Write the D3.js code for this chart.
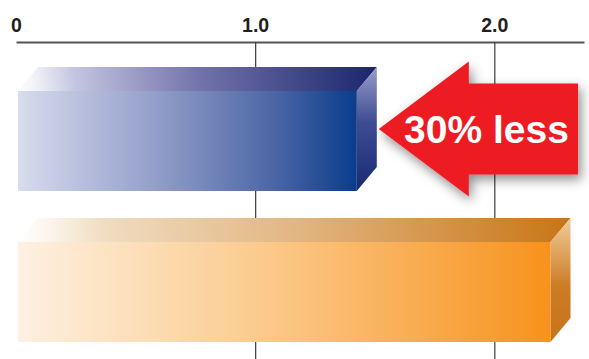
<!DOCTYPE html>
<html>
<head>
<meta charset="utf-8">
<script src="https://cdn.jsdelivr.net/npm/d3@7"></script>
<style>
  html, body { margin: 0; padding: 0; background: #ffffff; }
  svg { display: block; }
</style>
</head>
<body>
<script>
// ---- data ----
const categories = ["Blue", "Orange"];
const values = [1.425, 2.235];
const tickValues = [0, 1, 2];
const tickLabels = ["0", "1.0", "2.0"];
const annotation = "30% less";

// ---- layout ----
const W = 589, H = 359;
const axisY = 42;
const depthX = 20, depthY = -24;

const x = d3.scaleLinear().domain([0, 2.375]).range([16, 584]);
const y = d3.scaleBand().domain(categories).range([91, 342]).paddingInner(0.3377).paddingOuter(0);

const svg = d3.select("body").append("svg").attr("width", W).attr("height", H);
const defs = svg.append("defs");

function lin(id, x1, y1, x2, y2, stops, user) {
  const g = defs.append("linearGradient").attr("id", id)
    .attr("x1", x1).attr("y1", y1).attr("x2", x2).attr("y2", y2);
  if (user) g.attr("gradientUnits", "userSpaceOnUse");
  stops.forEach(([o, c]) => g.append("stop").attr("offset", o).attr("stop-color", c));
}
const palettes = [
  {
    front: [[0, "#d8dcee"], [0.4, "#949fca"], [0.75, "#4d67a5"], [1, "#0a3c8c"]],
    top: [[0, "#ffffff"], [0.06, "#eeeef6"], [0.16, "#c3c5e0"], [0.5, "#7273aa"], [1, "#17236b"]],
    side: [[0, "#9a9dca"], [0.45, "#3d4c92"], [1, "#1a2a72"]]
  },
  {
    front: [[0, "#fdf1e2"], [0.45, "#fbcb8e"], [1, "#f7921c"]],
    top: [[0, "#ffffff"], [0.06, "#fbf4ea"], [0.16, "#f0dcc0"], [0.5, "#e2b682"], [1, "#c87414"]],
    side: [[0, "#f1cd9a"], [0.55, "#cc7c25"], [1, "#c8731a"]]
  }
];
palettes.forEach((p, i) => {
  lin("front" + i, 0, 0, 1, 0, p.front);
  lin("side" + i, 0, 0, 0, 1, p.side);
});

const shadow = defs.append("filter").attr("id", "shadow")
  .attr("x", "-20%").attr("y", "-30%").attr("width", "150%").attr("height", "170%");
shadow.append("feDropShadow").attr("dx", 3).attr("dy", 5).attr("stdDeviation", 6)
  .attr("flood-color", "#000").attr("flood-opacity", 0.45);

// ---- axis with gridlines (behind bars) ----
const axis = d3.axisBottom(x)
  .tickValues(tickValues)
  .tickFormat((d, i) => tickLabels[i])
  .tickSize(H - axisY)
  .tickSizeOuter(0);

const gAxis = svg.append("g").attr("transform", `translate(0,${axisY})`).call(axis);
gAxis.select(".domain").attr("stroke", "#555").attr("stroke-width", 2);
gAxis.selectAll(".tick line").attr("stroke", "#3c3c3c").attr("stroke-width", 1.2)
  .attr("display", d => d === 0 ? "none" : null);
gAxis.selectAll(".tick text")
  .attr("y", -10).attr("dy", 0)
  .attr("fill", "#231f20")
  .attr("font-family", "'Liberation Sans', Arial, Helvetica, sans-serif")
  .attr("font-weight", "bold")
  .attr("font-size", 19.5)
  .attr("text-anchor", "middle");

// ---- 3D bars ----
const inset = 2;
const bars = svg.append("g").selectAll("g").data(categories).join("g");

bars.each(function (c, i) {
  const g = d3.select(this);
  const x0 = x(0) + inset, x1 = x(values[i]);
  const y0 = y(c), y1 = y(c) + y.bandwidth();
  // top-face gradient in user space (diagonal, light at the near-left corner)
  lin("top" + i, x0, y0, x1 + depthX, y0 + depthY * 2, palettes[i].top, true);
  // top face
  g.append("path")
    .attr("d", `M${x0},${y0} L${x0 + depthX},${y0 + depthY} L${x1 + depthX},${y0 + depthY} L${x1},${y0} Z`)
    .attr("fill", `url(#top${i})`);
  // side face
  g.append("path")
    .attr("d", `M${x1},${y0} L${x1 + depthX},${y0 + depthY} L${x1 + depthX},${y1 + depthY} L${x1},${y1} Z`)
    .attr("fill", `url(#side${i})`);
  // front face
  g.append("rect")
    .attr("x", x0).attr("y", y0)
    .attr("width", x1 - x0).attr("height", y1 - y0)
    .attr("fill", `url(#front${i})`);
});

// ---- annotation arrow ----
const c0 = categories[0];
const tipX = x(values[0]) + depthX + 2;
const cy = (y(c0) + depthY + y(c0) + y.bandwidth()) / 2;
const endX = x(2.35);
const headLen = 90, headHalf = 67.5, shaftHalf = 45.5;

const gArrow = svg.append("g");
gArrow.append("path")
  .attr("d", `M${tipX},${cy} L${tipX + headLen},${cy - headHalf} L${tipX + headLen},${cy - shaftHalf}
              L${endX},${cy - shaftHalf} L${endX},${cy + shaftHalf} L${tipX + headLen},${cy + shaftHalf}
              L${tipX + headLen},${cy + headHalf} Z`)
  .attr("fill", "#ed1c24")
  .attr("filter", "url(#shadow)");

gArrow.append("text")
  .attr("x", 486.5).attr("y", cy + 13.5)
  .attr("text-anchor", "middle")
  .attr("fill", "#ffffff")
  .attr("font-family", "'Liberation Sans', Arial, Helvetica, sans-serif")
  .attr("font-weight", "bold")
  .attr("font-size", 39)
  .text(annotation);
</script>
</body>
</html>
